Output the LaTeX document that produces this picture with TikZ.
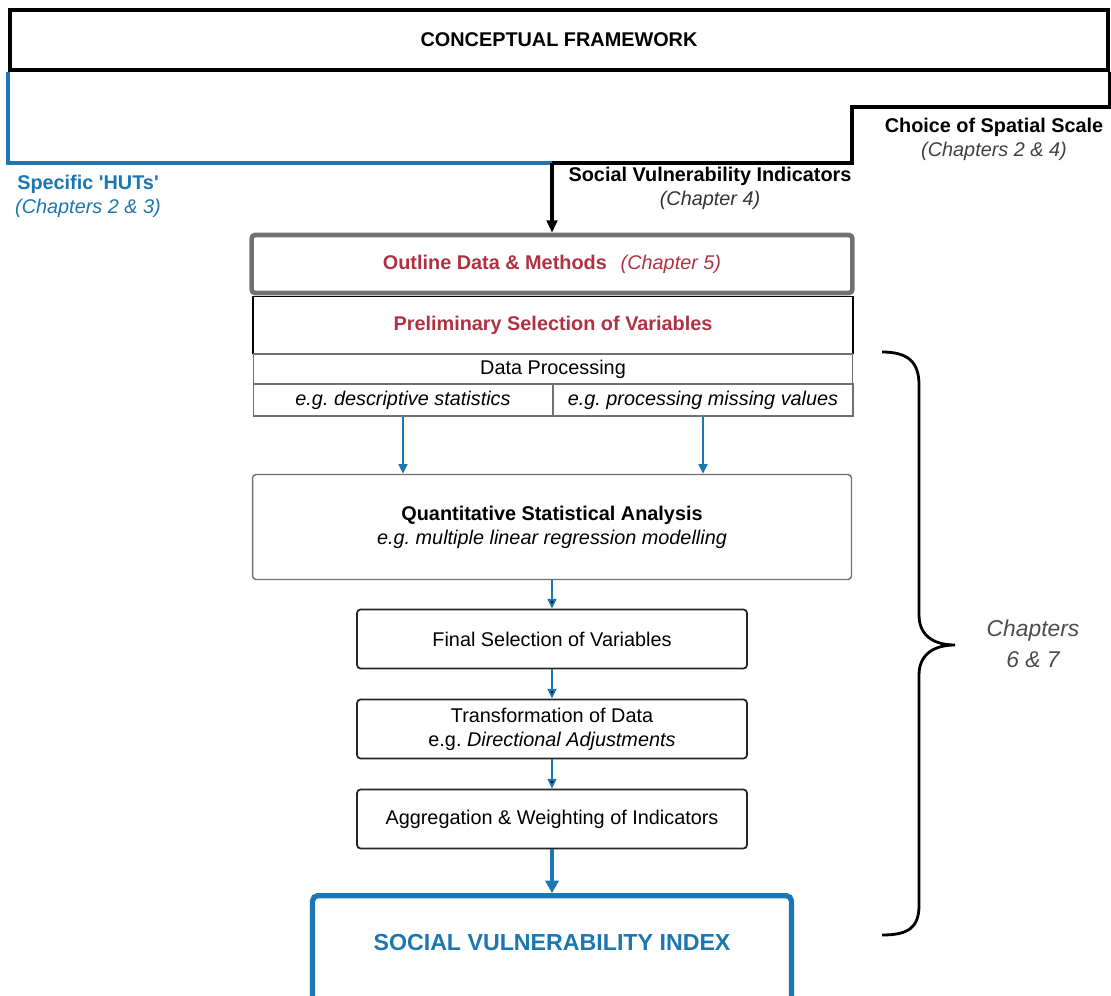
\documentclass[tikz,border=0pt]{standalone}
\usepackage{fontspec}
\setmainfont{Liberation Sans}
\usetikzlibrary{arrows.meta}
\definecolor{svblue}{RGB}{28,118,178}
\definecolor{svred}{RGB}{176,50,66}
\definecolor{boxgray}{RGB}{112,112,112}
\newcommand\svfont{\fontsize{11.3}{13.6}\selectfont}
\frenchspacing

\begin{document}
\begin{tikzpicture}[x=0.02cm, y=-0.02cm, font=\svfont,
framebox/.style={draw=black, line width=2.4pt, minimum width=21.96cm, minimum height=1.2cm, font=\svfont\bfseries},
outlinebox/.style={draw=boxgray, line width=2.6pt, rounded corners=2pt, minimum width=12.02cm, minimum height=1.16cm, text=svred},
prelimbox/.style={draw=black, line width=1.1pt, minimum width=12cm, minimum height=1.14cm, text=svred, font=\svfont\bfseries},
rowbox/.style={draw=boxgray, line width=0.6pt, fill=white, minimum width=12cm, minimum height=0.6cm, inner sep=0pt},
halfbox/.style={rowbox, minimum width=6cm, minimum height=0.64cm, font=\svfont\itshape},
roundbox/.style={draw=boxgray, line width=0.8pt, rounded corners=2pt, align=center},
stepbox/.style={draw=black!85, line width=1pt, rounded corners=2pt, minimum width=7.8cm, minimum height=1.18cm, align=center},
sviframe/.style={draw=svblue, line width=3pt, rounded corners=3pt, minimum width=9.58cm, minimum height=2.6cm},
svitext/.style={text=svblue, font=\fontsize{13.2}{15}\selectfont\bfseries},
labeltext/.style={align=center},
hutline/.style={draw=svblue, line width=1.8pt},
stepline/.style={draw=black, line width=2pt},
bluearrow/.style={draw=svblue, line width=1.1pt, -{Triangle[length=5.5pt,width=5pt]}},
fatarrow/.style={draw=svblue, line width=2.6pt, -{Triangle[length=7pt,width=7.5pt]}},
bracestyle/.style={draw=black, line width=1.6pt}
]
    \useasboundingbox (0,0) rectangle (1111,996);

    \node [framebox] (cf) at (559,40) {CONCEPTUAL FRAMEWORK};

    \coordinate (stepb) at (852,107);
    \coordinate (svitop) at (552,163);

    \node [outlinebox] (odm) at (552,264) {{\bfseries Outline Data \& Methods}\hspace{0.7em}{\itshape (Chapter 5)}};
    \node [prelimbox] (psv) at (553,325) {Preliminary Selection of Variables};
    \node [rowbox] (dp) at (553,369) {Data Processing};
    \node [halfbox] (desc) at (403,400) {e.g. descriptive statistics};
    \node [halfbox] (miss) at (703,400) {e.g. processing missing values};

    \node [roundbox, minimum width=11.98cm, minimum height=2.1cm] (qsa) at (552,527)
        {{\bfseries Quantitative Statistical Analysis}\\{\itshape e.g. multiple linear regression modelling}};
    \node [stepbox] (fin) at (552,639) {Final Selection of Variables};
    \node [stepbox] (tod) at (552,729) {Transformation of Data\\e.g. {\itshape Directional Adjustments}};
    \node [stepbox] (agg) at (552,819) {Aggregation \& Weighting of Indicators};
    \node [sviframe, anchor=north] (svi) at (552,893) {};
    \node [svitext] (svit) at (552,943) {SOCIAL VULNERABILITY INDEX};

    % labels on the framework lines
    \node [labeltext, text=svblue] (hut) at (88,196) {{\bfseries Specific \textquotesingle HUTs\textquotesingle}\\{\itshape (Chapters 2 \& 3)}};
    \node [labeltext] (svind) at (710,188) {{\bfseries Social Vulnerability Indicators}\\{\itshape\color{black!80}(Chapter 4)}};
    \node [labeltext] (scale) at (994,139) {{\bfseries Choice of Spatial Scale}\\{\itshape\color{black!75}(Chapters 2 \& 4)}};

    \draw [hutline] (cf.south west) |- (svitop);
    \draw [stepline] (cf.south east) |- (stepb) |- (svitop);
    \draw [stepline, -{Triangle[length=7pt,width=6pt]}] (svitop) -- (odm);

    \draw [bluearrow] (desc.south) -- (desc.south |- qsa.north);
    \draw [bluearrow] (miss.south) -- (miss.south |- qsa.north);
    \draw [bluearrow] (qsa) edge (fin);
    \draw [bluearrow] (fin) edge (tod);
    \draw [bluearrow] (tod) edge (agg);
    \draw [fatarrow] (agg) -- (svi);

    % brace for chapters 6 and 7
    \draw [bracestyle] (882,352) .. controls (908,352) and (919,362) .. (919,385) -- (919,615)
        .. controls (919,635) and (933,645) .. (955,645) .. controls (933,645) and (919,655) .. (919,675)
        -- (919,905) .. controls (919,928) and (908,935) .. (882,935);
    \node [labeltext, text=black!70, font=\fontsize{13}{18}\selectfont\itshape] (chap) at (1033,644) {Chapters\\6 \& 7};
\end{tikzpicture}
\end{document}
